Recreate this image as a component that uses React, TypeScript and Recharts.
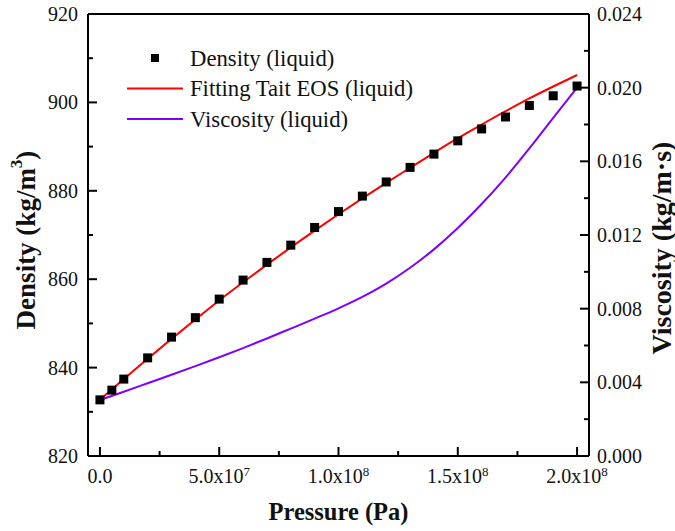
import React from 'react';
import { ComposedChart, Scatter, Line, XAxis, YAxis, Legend, ReferenceLine } from 'recharts';

// measured density points (Pa, kg/m3)
const PRESSURE_PTS = [0, 5e6, 1e7, 2e7, 3e7, 4e7, 5e7, 6e7, 7e7, 8e7, 9e7, 1e8, 1.1e8, 1.2e8, 1.3e8, 1.4e8, 1.5e8, 1.6e8, 1.7e8, 1.8e8, 1.9e8, 2e8];
const DENSITY_PTS = [832.7, 834.9, 837.4, 842.2, 846.9, 851.3, 855.5, 859.8, 863.8, 867.7, 871.7, 875.3, 878.8, 882.0, 885.3, 888.3, 891.3, 894.0, 896.7, 899.3, 901.5, 903.7];

// curves
const CURVE_P = [0, 1e7, 2e7, 3e7, 4e7, 5e7, 6e7, 7e7, 8e7, 9e7, 1e8, 1.1e8, 1.2e8, 1.3e8, 1.4e8, 1.5e8, 1.6e8, 1.7e8, 1.8e8, 1.9e8, 2e8];
const TAIT_FIT = [832.7, 837.4, 842.0, 846.5, 850.9, 855.2, 859.3, 863.3, 867.2, 871.0, 874.7, 878.3, 881.8, 885.2, 888.6, 891.9, 895.0, 898.0, 900.9, 903.6, 906.2];
const VISCOSITY = [0.00304, 0.00349, 0.00395, 0.00441, 0.00488, 0.00536, 0.00586, 0.00638, 0.00692, 0.00746, 0.00802, 0.00864, 0.00936, 0.01022, 0.01122, 0.01238, 0.01368, 0.01512, 0.0167, 0.01836, 0.02];

const X_TICKS = [0, 2.5e7, 5e7, 7.5e7, 1e8, 1.25e8, 1.5e8, 1.75e8, 2e8];
const LEFT_TICKS = [820, 830, 840, 850, 860, 870, 880, 890, 900, 910, 920];
const RIGHT_TICKS = [0, 0.002, 0.004, 0.006, 0.008, 0.01, 0.012, 0.014, 0.016, 0.018, 0.02, 0.022, 0.024];

const densityData = PRESSURE_PTS.map((p, i) => ({ p, density: DENSITY_PTS[i] }));
const curveData = CURVE_P.map((p, i) => ({ p, fit: TAIT_FIT[i], visc: VISCOSITY[i] }));

const FONT = '"Liberation Serif", "Times New Roman", serif';

const XTick = ({ x, y, payload }: any) => {
  const v = payload.value;
  const major = Math.round(v / 1e7) % 5 === 0;
  const axisY = y - 8;
  let label: any = null;
  if (major) {
    if (v === 0) {
      label = '0.0';
    } else {
      const exp = Math.floor(Math.log10(v));
      const mant = (v / Math.pow(10, exp)).toFixed(1);
      label = (
        <>
          {mant + 'x10'}
          <tspan dy={-7} fontSize={13}>{exp}</tspan>
        </>
      );
    }
  }
  return (
    <g>
      <line x1={x} x2={x} y1={axisY} y2={axisY - (major ? 9 : 5)} stroke="#000" strokeWidth={2} />
      {major && (
        <text x={x} y={y + 19} textAnchor="middle" fontSize={20} fontFamily={FONT} fill="#111">
          {label}
        </text>
      )}
    </g>
  );
};

const LeftTick = ({ x, y, payload }: any) => {
  const v = payload.value;
  const major = v % 20 === 0;
  const axisX = x + 10;
  return (
    <g>
      <line x1={axisX} x2={axisX + (major ? 9 : 5)} y1={y} y2={y} stroke="#000" strokeWidth={2} />
      {major && (
        <text x={x} y={y} textAnchor="end" dominantBaseline="central" fontSize={20} fontFamily={FONT} fill="#111">
          {v}
        </text>
      )}
    </g>
  );
};

const RightTick = ({ x, y, payload }: any) => {
  const v = payload.value;
  const major = Math.round(v * 1000) % 4 === 0;
  const axisX = x - 8;
  return (
    <g>
      <line x1={axisX} x2={axisX - (major ? 9 : 5)} y1={y} y2={y} stroke="#000" strokeWidth={2} />
      {major && (
        <text x={x} y={y} textAnchor="start" dominantBaseline="central" fontSize={20} fontFamily={FONT} fill="#111">
          {v.toFixed(3)}
        </text>
      )}
    </g>
  );
};

const SquareDot = ({ cx, cy }: any) => <rect x={cx - 4.5} y={cy - 4.5} width={9} height={9} fill="#000" />;

const renderLegend = ({ payload }: any) => (
  <svg width={420} height={140} style={{ display: 'block' }}>
    {(payload || []).map((item: any, i: number) => {
      const cy = 44 + i * 30.5;
      return (
        <g key={item.value}>
          {item.type === 'square' ? (
            <rect x={151} y={cy - 4} width={8} height={8} fill="#000" />
          ) : (
            <line x1={127} x2={183} y1={cy} y2={cy} stroke={item.color} strokeWidth={2} />
          )}
          <text x={190} y={cy} dominantBaseline="central" fontSize={22.7} fontFamily={FONT} fill="#111">
            {item.value}
          </text>
        </g>
      );
    })}
  </svg>
);

export default function App() {
  return (
    <>
      <style>{'body{margin:0;overflow:hidden;background:#fff}'}</style>
      <ComposedChart width={675} height={531} margin={{ top: 14, right: 0, bottom: 0, left: 0 }}>
        <XAxis
          dataKey="p"
          type="number"
          domain={[-5e6, 2.05e8]}
          allowDataOverflow
          ticks={X_TICKS}
          interval={0}
          height={75}
          tickSize={0}
          tickMargin={8}
          tickLine={false}
          axisLine={{ stroke: '#000', strokeWidth: 2 }}
          tick={(p: any) => <XTick {...p} />}
          label={{
            content: ({ viewBox }: any) => (
              <text x={viewBox.x + viewBox.width / 2} y={viewBox.y + 64} textAnchor="middle" fontSize={24.5} fontWeight="bold" fontFamily={FONT} fill="#111">
                Pressure (Pa)
              </text>
            ),
          }}
        />
        <YAxis
          yAxisId="left"
          orientation="left"
          type="number"
          domain={[820, 920]}
          allowDataOverflow
          ticks={LEFT_TICKS}
          interval={0}
          width={88}
          tickSize={0}
          tickMargin={10}
          tickLine={false}
          axisLine={{ stroke: '#000', strokeWidth: 2 }}
          tick={(p: any) => <LeftTick {...p} />}
          label={{
            content: ({ viewBox }: any) => {
              const cx = viewBox.x + 26;
              const cy = viewBox.y + viewBox.height / 2 + 5;
              return (
                <text x={cx} y={cy} transform={`rotate(-90, ${cx}, ${cy})`} textAnchor="middle" dominantBaseline="central" fontSize={27} fontWeight="bold" fontFamily={FONT} fill="#111">
                  Density (kg/m<tspan dy={-10} fontSize={17}>3</tspan><tspan dy={10}>)</tspan>
                </text>
              );
            },
          }}
        />
        <YAxis
          yAxisId="right"
          orientation="right"
          type="number"
          domain={[0, 0.024]}
          allowDataOverflow
          ticks={RIGHT_TICKS}
          interval={0}
          width={86}
          tickSize={0}
          tickMargin={8}
          tickLine={false}
          axisLine={{ stroke: '#000', strokeWidth: 2 }}
          tick={(p: any) => <RightTick {...p} />}
          label={{
            content: ({ viewBox }: any) => {
              const cx = viewBox.x + 72;
              const cy = viewBox.y + viewBox.height / 2 + 13;
              return (
                <text x={cx} y={cy} transform={`rotate(-90, ${cx}, ${cy})`} textAnchor="middle" dominantBaseline="central" fontSize={28} fontWeight="bold" fontFamily={FONT} fill="#111">
                  Viscosity (kg/m·s)
                </text>
              );
            },
          }}
        />
        <ReferenceLine yAxisId="left" y={920} stroke="#000" strokeWidth={2} />
        <Line
          yAxisId="left"
          data={curveData}
          dataKey="fit"
          name="Fitting Tait EOS (liquid)"
          type="monotone"
          stroke="#ff0000"
          strokeWidth={2}
          dot={false}
          legendType="line"
          isAnimationActive={false}
        />
        <Line
          yAxisId="right"
          data={curveData}
          dataKey="visc"
          name="Viscosity (liquid)"
          type="monotone"
          stroke="#8000ff"
          strokeWidth={2}
          dot={false}
          legendType="line"
          isAnimationActive={false}
        />
        <Scatter
          yAxisId="left"
          data={densityData}
          dataKey="density"
          name="Density (liquid)"
          fill="#000"
          shape={<SquareDot />}
          legendType="square"
          isAnimationActive={false}
        />
        <Legend
          layout="horizontal"
          verticalAlign="middle"
          align="center"
          content={renderLegend}
          wrapperStyle={{ left: 0, top: 14, width: 420, height: 140 }}
        />
      </ComposedChart>
    </>
  );
}
